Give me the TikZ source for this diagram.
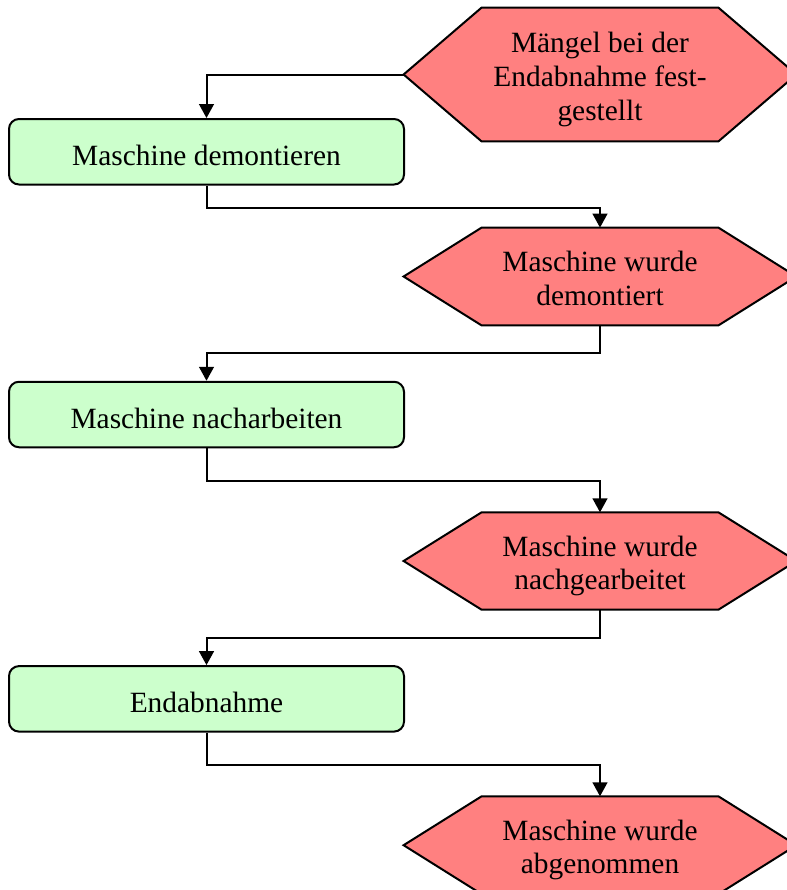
\documentclass[tikz,border=0pt]{standalone}
\usepackage{fontspec}
\setmainfont{Liberation Serif}
\usetikzlibrary{arrows.meta,backgrounds}
\definecolor{boxgreen}{HTML}{CCFFCC}
\definecolor{hexred}{HTML}{FF8080}
\newcommand\lowtext[2]{\raisebox{-#1}[\height][\depth]{\begin{tabular}{@{}c@{}}#2\end{tabular}}}
\tikzset{
  txt/.style={font=\fontsize{14.7}{16.8}\selectfont, inner sep=0pt},
  taskbox/.style={txt, draw, line width=1pt, fill=boxgreen, rounded corners=5pt,
    minimum width=197.5pt, minimum height=32.75pt},
  hexnode/.style={txt, minimum width=196pt},
  hexdraw/.style={draw, line width=1pt, fill=hexred},
  arr/.style={draw, line width=1pt, -{Triangle[length=7pt,width=7.4pt]}},
}
\newcommand\drawhex[1]{%
  \path[hexdraw] (#1.west) -- ([xshift=39pt]#1.north west) -- ([xshift=-39pt]#1.north east)
    -- (#1.east) -- ([xshift=-39pt]#1.south east) -- ([xshift=39pt]#1.south west) -- cycle;}
\begin{document}
\begin{tikzpicture}[x=0.5pt,y=-0.5pt]
\useasboundingbox (0,0) rectangle (787,890);
\node[hexnode, minimum height=66.5pt] (h1) at (600,74.5) {\lowtext{2.6pt}{Mängel bei der\\Endabnahme fest-\\gestellt}};
\node[taskbox] (r1) at (206.5,151.75) {\lowtext{3.6pt}{Maschine demontieren}};
\node[hexnode, minimum height=48.5pt] (h2) at (600,276.5) {\lowtext{2.6pt}{Maschine wurde\\demontiert}};
\node[taskbox] (r2) at (206.5,414.5) {\lowtext{3.6pt}{Maschine nacharbeiten}};
\node[hexnode, minimum height=48.3pt] (h3) at (600,561) {\lowtext{2.6pt}{Maschine wurde\\nachgearbeitet}};
\node[taskbox] (r3) at (206.5,698.85) {\lowtext{3.6pt}{Endabnahme}};
\node[hexnode, minimum height=48.5pt] (h4) at (600,845.2) {\lowtext{2.6pt}{Maschine wurde\\abgenommen}};
\begin{scope}[on background layer]
\drawhex{h1}\drawhex{h2}\drawhex{h3}\drawhex{h4}
\end{scope}
\draw[arr] (h1.west) -| (r1.north);
\draw[arr] (r1.south) -- ++(0,22.5) -| (h2.north);
\draw[arr] (h2.south) -- ++(0,28) -| (r2.north);
\draw[arr] (r2.south) -- ++(0,32.7) -| (h3.north);
\draw[arr] (h3.south) -- ++(0,28) -| (r3.north);
\draw[arr] (r3.south) -- ++(0,32.6) -| (h4.north);
\end{tikzpicture}
\end{document}
